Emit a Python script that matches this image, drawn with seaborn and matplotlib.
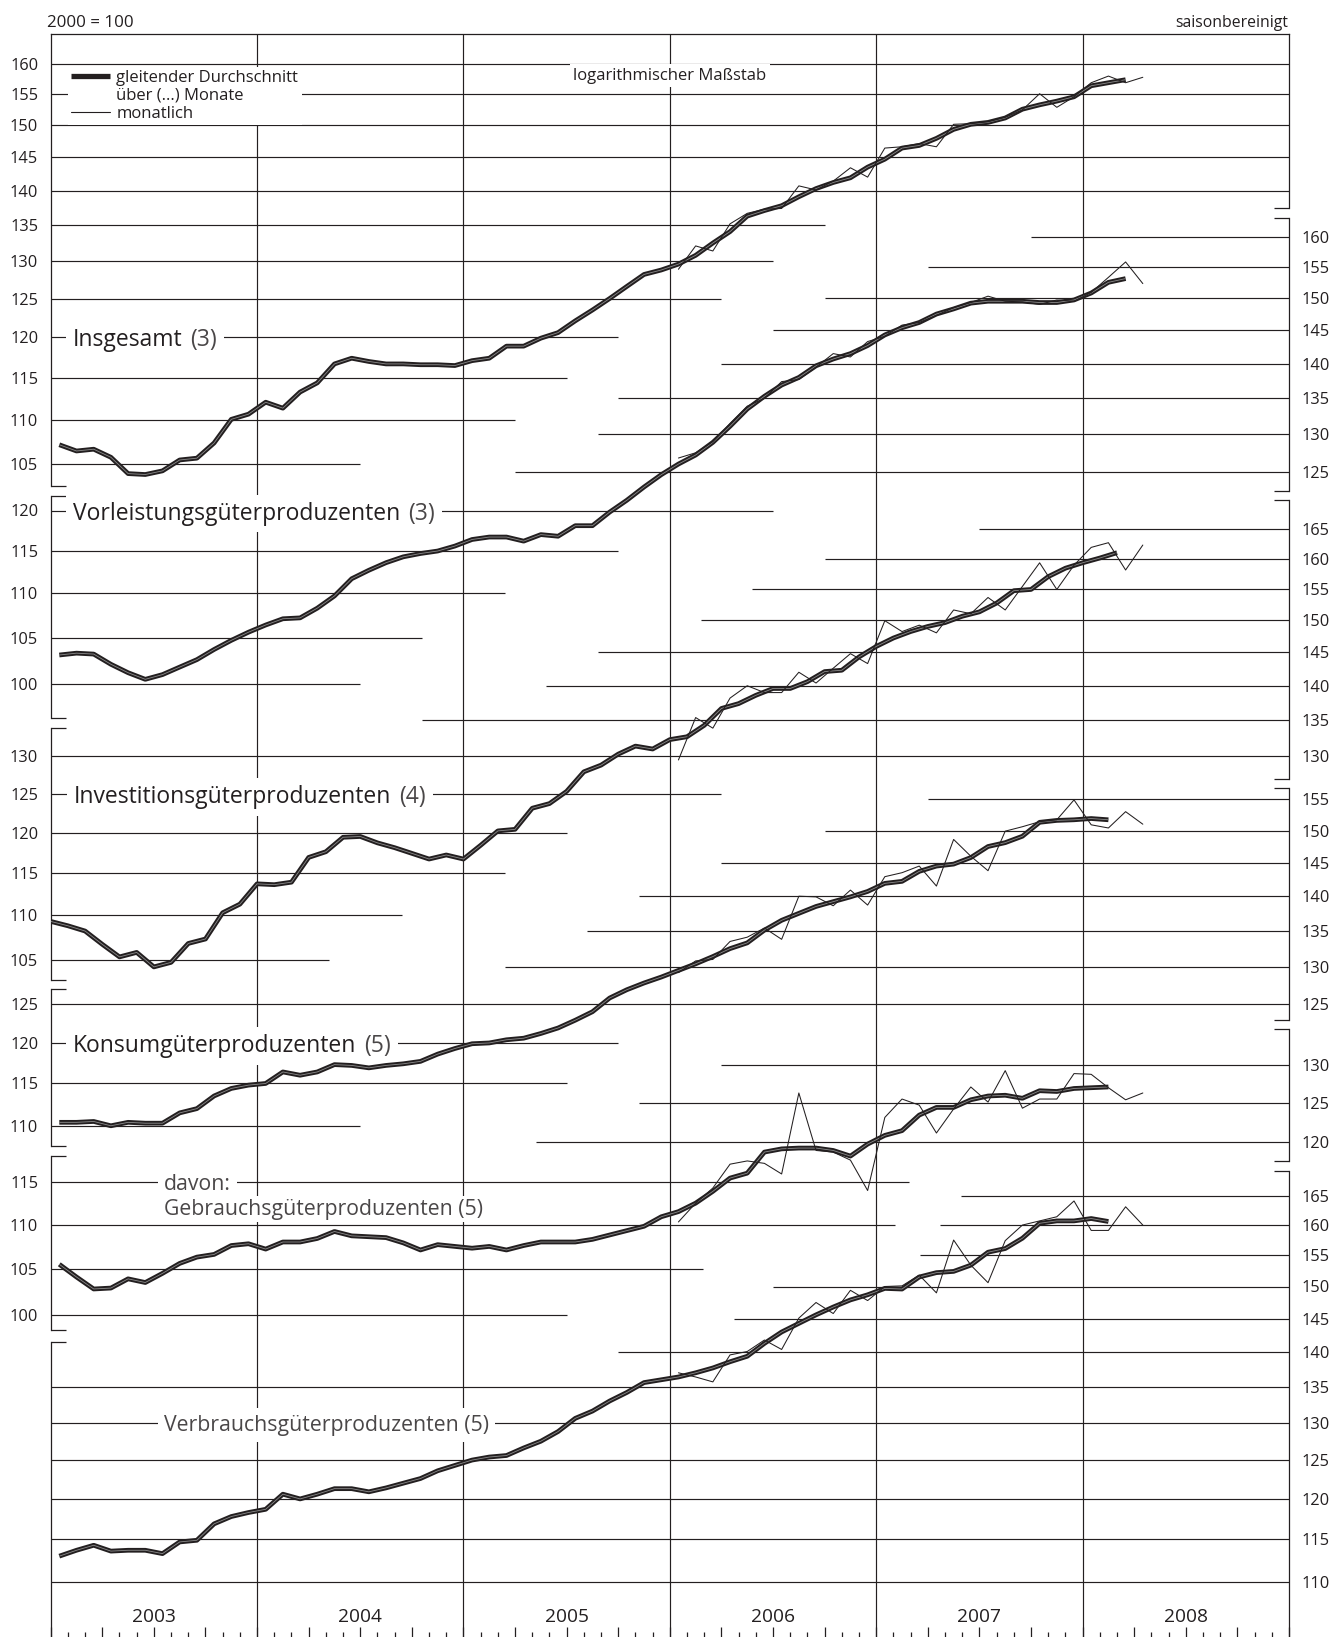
import numpy as np
import pandas as pd
import matplotlib
matplotlib.use("Agg")
import matplotlib.pyplot as plt
import matplotlib.transforms as mtrans
from matplotlib.lines import Line2D
from matplotlib.ticker import FixedLocator, FixedFormatter, NullFormatter
import seaborn as sns

# ---- Werte, 2000 = 100, saisonbereinigt ----
# gleitende Durchschnitte ab Jan 2003, monatliche Werte ab Jan 2006
ins_ma = [107.2, 106.5, 106.7, 105.8, 104.0, 103.9, 104.3, 105.5, 105.7, 107.4, 110.1, 110.7,
          112.1, 111.4, 113.3, 114.4, 116.7, 117.4, 117.0, 116.7, 116.7, 116.6, 116.6, 116.5,
          117.1, 117.4, 118.9, 118.9, 119.9, 120.6, 122.1, 123.5, 125.0, 126.6, 128.2, 128.8,
          129.6, 130.8, 132.5, 134.1, 136.3, 137.1, 137.8, 139.1, 140.3, 141.2, 141.9, 143.5,
          144.7, 146.4, 146.8, 147.9, 149.3, 150.1, 150.4, 151.1, 152.5, 153.2, 153.8, 154.5,
          156.3, 156.8, 157.3]
ins_m = [128.9, 132.1, 131.4, 135.2, 136.7, 137.3, 137.4, 140.7, 140.1, 141.4, 143.4, 142.0,
         146.4, 146.6, 147.1, 146.6, 150.1, 150.2, 150.5, 151.2, 152.4, 155.0, 152.8, 154.5,
         156.8, 157.9, 156.8, 157.7]

vor_ma = [103.1, 103.3, 103.2, 102.1, 101.2, 100.5, 101.0, 101.8, 102.6, 103.7, 104.7, 105.6,
          106.4, 107.1, 107.2, 108.3, 109.7, 111.7, 112.7, 113.6, 114.3, 114.7, 115.0, 115.6,
          116.4, 116.7, 116.7, 116.2, 117.0, 116.8, 118.1, 118.1, 119.8, 121.3, 123.0, 124.6,
          126.0, 127.2, 128.9, 131.1, 133.5, 135.3, 136.9, 138.0, 139.7, 140.7, 141.5, 142.7,
          144.3, 145.4, 146.2, 147.5, 148.3, 149.2, 149.5, 149.5, 149.5, 149.3, 149.3, 149.7,
          150.8, 152.5, 153.1]
vor_m = [126.8, 127.5, 129.0, 131.5, 133.9, 135.0, 137.4, 137.7, 139.5, 141.5, 141.0, 143.3,
         144.1, 145.8, 146.2, 147.3, 148.5, 149.3, 150.3, 149.5, 149.4, 149.0, 149.7, 149.5,
         150.9, 153.3, 155.8, 152.3]

inv_ma = [109.3, 108.8, 108.2, 106.7, 105.3, 105.8, 104.2, 104.7, 106.8, 107.3, 110.3, 111.3,
          113.7, 113.6, 113.9, 116.9, 117.6, 119.4, 119.5, 118.7, 118.1, 117.4, 116.7, 117.2,
          116.7, 118.4, 120.2, 120.4, 123.1, 123.7, 125.3, 127.9, 128.8, 130.3, 131.4, 131.0,
          132.3, 132.7, 134.3, 136.7, 137.4, 138.6, 139.6, 139.6, 140.6, 142.1, 142.3, 144.3,
          145.9, 147.2, 148.2, 149.0, 149.6, 150.6, 151.3, 152.7, 154.7, 154.9, 157.0, 158.4,
          159.3, 160.1, 161.0]
inv_m = [129.5, 135.4, 133.9, 138.2, 140.0, 139.0, 139.0, 142.0, 140.4, 142.6, 144.8, 143.3,
         149.9, 148.2, 149.2, 148.0, 151.6, 151.0, 153.6, 151.6, 155.4, 159.3, 154.9, 158.9,
         161.9, 162.7, 158.1, 162.3]

kon_ma = [110.4, 110.4, 110.5, 110.0, 110.4, 110.3, 110.3, 111.5, 112.0, 113.5, 114.4, 114.8,
          115.0, 116.4, 116.0, 116.4, 117.3, 117.2, 116.9, 117.2, 117.4, 117.7, 118.6, 119.3,
          119.9, 120.0, 120.4, 120.6, 121.2, 121.9, 122.9, 124.0, 125.8, 126.9, 127.8, 128.6,
          129.5, 130.4, 131.4, 132.5, 133.3, 135.1, 136.5, 137.5, 138.5, 139.2, 139.9, 140.7,
          141.9, 142.2, 143.7, 144.5, 144.8, 145.8, 147.5, 148.1, 149.1, 151.3, 151.6, 151.7,
          151.9, 151.7]
kon_m = [129.2, 130.8, 131.0, 133.5, 134.1, 135.4, 133.8, 140.0, 139.9, 138.6, 140.9, 138.7,
         142.9, 143.5, 144.5, 141.5, 148.6, 146.0, 143.8, 149.9, 150.6, 151.4, 151.7, 154.9,
         150.9, 150.4, 153.0, 151.0]

geb_ma = [105.5, 104.1, 102.8, 102.9, 103.9, 103.5, 104.5, 105.6, 106.3, 106.6, 107.6, 107.8,
          107.2, 108.0, 108.0, 108.4, 109.2, 108.7, 108.6, 108.5, 107.9, 107.1, 107.7, 107.5,
          107.3, 107.5, 107.1, 107.6, 108.0, 108.0, 108.0, 108.3, 108.8, 109.3, 109.8, 110.9,
          111.5, 112.5, 113.9, 115.5, 116.1, 118.7, 119.1, 119.2, 119.2, 118.9, 118.2, 119.7,
          120.8, 121.4, 123.4, 124.4, 124.4, 125.4, 125.9, 126.0, 125.6, 126.6, 126.5, 126.9,
          127.0, 127.1]
geb_m = [110.3, 112.5, 114.3, 117.2, 117.6, 117.3, 116.0, 126.3, 118.9, 118.7, 117.7, 114.0,
         123.1, 125.5, 124.7, 121.1, 124.2, 127.1, 125.1, 129.3, 124.3, 125.5, 125.5, 128.9,
         128.8, 127.0, 125.4, 126.3]

ver_ma = [113.0, 113.7, 114.3, 113.6, 113.7, 113.7, 113.3, 114.7, 114.9, 116.9, 117.8, 118.3,
          118.7, 120.6, 120.0, 120.6, 121.3, 121.3, 120.9, 121.4, 122.0, 122.6, 123.6, 124.3,
          125.0, 125.4, 125.6, 126.6, 127.5, 128.8, 130.6, 131.6, 133.0, 134.2, 135.6, 136.0,
          136.4, 137.0, 137.7, 138.6, 139.4, 141.3, 143.0, 144.3, 145.6, 146.8, 147.9, 148.7,
          149.7, 149.6, 151.5, 152.2, 152.4, 153.4, 155.5, 156.1, 157.8, 160.3, 160.7, 160.7,
          161.1, 160.6]
ver_m = [137.0, 136.4, 135.7, 139.6, 140.1, 141.8, 140.4, 145.1, 147.5, 145.8, 149.4, 147.8,
         150.0, 150.1, 151.8, 149.0, 157.5, 153.4, 150.6, 157.4, 160.0, 160.7, 161.4, 164.1,
         159.1, 159.1, 163.1, 160.0]

years = [2003, 2004, 2005, 2006, 2007, 2008]


# ---- Achsen-Layout ----
sns.set_theme(style="white")
plt.rcParams["font.family"] = ["Open Sans", "DejaVu Sans"]

INK = "#231f20"
SOFT = "#4a4748"
W, H = 1336, 1637
L_PX, R_PX, T_PX, B_PX = 50.7, 1289.0, 34.3, 1637.0
K = 952.0  # Pixel je ln-Einheit (gemeinsamer log. Massstab)


def val_at(anchor, px):
    v0, p0 = anchor
    return v0 * np.exp((p0 - px) / K)


def month_x(start, n, centred=True):
    d = pd.date_range(start, periods=n, freq="MS")
    off = 0.5 if centred else 1.0
    return np.asarray(d.year + (d.month - off) / 12.0, dtype=float)


def style_side(a, side, ticks, span, anchor):
    top_v, bot_v = val_at(anchor, span[0]), val_at(anchor, span[1])
    for s in ("left", "right", "top", "bottom"):
        a.spines[s].set_visible(s == side)
    a.spines[side].set_bounds(bot_v, top_v)
    a.spines[side].set_color(INK)
    a.spines[side].set_linewidth(0.9)
    caps = [v for v, p in ((top_v, span[0]), (bot_v, span[1])) if T_PX < p < B_PX]
    a.yaxis.set_major_locator(FixedLocator(ticks))
    a.yaxis.set_major_formatter(FixedFormatter([str(t) for t in ticks]))
    a.yaxis.set_minor_locator(FixedLocator(caps))
    a.yaxis.set_minor_formatter(NullFormatter())
    a.yaxis.set_ticks_position(side)
    on = dict(left=side == "left", right=side == "right",
              labelleft=side == "left", labelright=side == "right")
    a.tick_params(axis="y", which="major", length=0, pad=9, labelsize=11.8,
                  labelcolor=INK, **on)
    a.tick_params(axis="y", which="minor", length=11, width=0.9, color=INK,
                  direction="in", **on)


fig = plt.figure(figsize=(W / 100, H / 100), dpi=100)
fig.patch.set_facecolor("white")
rect = [L_PX / W, 1 - B_PX / H, (R_PX - L_PX) / W, (B_PX - T_PX) / H]


def white(pad):
    return dict(boxstyle=f"square,pad={pad}", fc="white", ec="none")


panels = [
    # name, number, anchor, left ticks, right ticks, left spine px, right spine px, grid,
    # ma, ma_x, monthly, label position
    ("Insgesamt", "(3)", (160, 63.5), list(range(105, 161, 5)), [],
     (T_PX, 485.7), (T_PX, 208.4),
     [(v, 2003, 2009) for v in (160, 155, 150, 145, 140)]
     + [(135, 2003, 2006.75), (130, 2003, 2006.5), (125, 2003, 2006.25), (120, 2003, 2005.75),
        (115, 2003, 2005.5), (110, 2003, 2005.25), (105, 2003, 2004.5)],
     ins_ma, month_x("2003-01", 63), ins_m, (2003.108, 120)),
    ("Vorleistungsgüterproduzenten", "(3)", (120, 510.5), list(range(100, 121, 5)),
     list(range(125, 161, 5)), (496, 718.3), (217.9, 490.8),
     [(120, 2003, 2006.5), (115, 2003, 2005.75), (110, 2003, 2005.2), (105, 2003, 2004.8),
      (100, 2003, 2004.5), (160, 2007.75, 2009), (155, 2007.25, 2009), (150, 2006.75, 2009),
      (145, 2006.5, 2009), (140, 2006.25, 2009), (135, 2005.75, 2009), (130, 2005.65, 2009),
      (125, 2005.25, 2009)],
     vor_ma, month_x("2003-01", 63), vor_m, (2003.108, 120)),
    ("Investitionsgüterproduzenten", "(4)", (130, 756.3), list(range(105, 131, 5)),
     list(range(130, 166, 5)), (727.7, 980), (500.4, 779),
     [(130, 2003, 2009), (125, 2003, 2006.25), (120, 2003, 2005.5), (115, 2003, 2005.2),
      (110, 2003, 2004.7), (105, 2003, 2004.35), (165, 2007.5, 2009), (160, 2006.75, 2009),
      (155, 2006.4, 2009), (150, 2006.15, 2009), (145, 2005.65, 2009), (140, 2005.4, 2009),
      (135, 2004.8, 2009)],
     inv_ma, month_x("2003-01", 63, centred=False), inv_m, (2003.113, 125)),
    ("Konsumgüterproduzenten", "(5)", (155, 799.3), list(range(110, 126, 5)),
     list(range(125, 156, 5)), (989.3, 1146), (788, 1019.9),
     [(125, 2003, 2009), (120, 2003, 2005.75), (115, 2003, 2005.5), (110, 2003, 2004.5),
      (155, 2007.25, 2009), (150, 2006.75, 2009), (145, 2006.25, 2009), (140, 2005.85, 2009),
      (135, 2005.6, 2009), (130, 2005.2, 2009)],
     kon_ma, month_x("2003-01", 62), kon_m, (2003.108, 120)),
    ("davon:", "", (120, 1141.7), list(range(100, 116, 5)), list(range(120, 131, 5)),
     (1156, 1330), (1029.5, 1161),
     [(115, 2003, 2007.16), (110, 2003, 2007.09), (105, 2003, 2006.16), (100, 2003, 2005.5),
      (130, 2006.25, 2009), (125, 2005.85, 2009), (120, 2005.35, 2009)],
     geb_ma, month_x("2003-01", 62), geb_m, (2003.549, 115)),
    ("Verbrauchsgüterproduzenten (5)", "", (150, 1286.5), [], list(range(110, 166, 5)),
     (1342, B_PX), (1170.7, B_PX),
     [(165, 2007.41, 2009), (160, 2007.31, 2009), (155, 2007.21, 2009), (150, 2006.5, 2009),
      (145, 2006.31, 2009), (140, 2005.75, 2009)]
     + [(v, 2003, 2009) for v in (135, 130, 125, 120, 115, 110)],
     ver_ma, month_x("2003-01", 62), ver_m, (2003.549, 130)),
]

mon_x = month_x("2006-01", 28)
axes = []
for i, (name, num, anchor, lt, rt, lspan, rspan, grid, ma, ma_x, mon, lab) in enumerate(panels):
    ax = fig.add_axes(rect, label=f"panel{i}")
    if i > 0:
        ax.patch.set_visible(False)
    gv, g0, g1 = zip(*grid)
    ax.hlines(gv, g0, g1, colors=INK, lw=0.85, zorder=1)
    sns.lineplot(x=ma_x, y=ma, ax=ax, color=INK, lw=3.4, solid_capstyle="butt",
                 estimator=None, sort=False, zorder=4)
    sns.lineplot(x=ma_x, y=ma, ax=ax, color="#8c8c8c", lw=0.6, solid_capstyle="butt",
                 estimator=None, sort=False, zorder=5)
    sns.lineplot(x=mon_x, y=mon, ax=ax, color=INK, lw=0.75, estimator=None, sort=False,
                 zorder=6)
    ax.set_yscale("log")
    ax.set_xlim(2003, 2009)
    ylim = (val_at(anchor, B_PX), val_at(anchor, T_PX))
    ax.set_ylim(*ylim)
    ax.set_xlabel("")
    ax.set_ylabel("")
    style_side(ax, "left", lt, lspan, anchor)
    if i > 0:
        ax.tick_params(axis="x", which="both", bottom=False, labelbottom=False)

    axr = ax.twinx()
    axr.set_yscale("log")
    axr.set_ylim(*ylim)
    style_side(axr, "right", rt, rspan, anchor)

    # Beschriftung: weisser Hintergrund unterbricht Gitter, nicht die Kurven
    sub = i >= 4
    t = ax.text(lab[0], lab[1], name, fontsize=15.3 if sub else 16.5,
                color=SOFT if sub else INK, ha="left", va="center_baseline",
                bbox=white(0.3), zorder=3.5)
    if num:
        ax.annotate(num, xy=(1, 0), xycoords=t, xytext=(5.5, 0), textcoords="offset points",
                    fontsize=16.5, color=SOFT, ha="left", va="bottom",
                    bbox=white(0.3), zorder=3.2)
    if name == "davon:":
        ax.annotate("Gebrauchsgüterproduzenten (5)", xy=lab, xytext=(0, -17.5),
                    textcoords="offset points", fontsize=15.3, color=SOFT,
                    ha="left", va="center_baseline", bbox=white(0.1), zorder=3.7)
    axes.append(ax)

ax0 = axes[0]
ax0.spines["top"].set_visible(True)
ax0.spines["top"].set_color(INK)
ax0.spines["top"].set_linewidth(0.9)
for yr in years[1:]:
    ax0.axvline(yr, color=INK, lw=0.85, zorder=1)

# Monats- und Quartalsstriche unten
ax0.xaxis.set_major_locator(FixedLocator(np.arange(2003, 2009.001, 0.25)))
ax0.xaxis.set_minor_locator(FixedLocator(2003 + np.arange(73) / 12.0))
ax0.xaxis.set_major_formatter(NullFormatter())
ax0.tick_params(axis="x", which="major", direction="in", length=7.5, width=0.9, color=INK,
                bottom=True, labelbottom=False)
ax0.tick_params(axis="x", which="minor", direction="in", length=3.8, width=0.9, color=INK,
                bottom=True)
blend = mtrans.blended_transform_factory(ax0.transData, ax0.transAxes)
for yr in years:
    ax0.text(yr + 0.5, (B_PX - 1617) / (B_PX - T_PX), str(yr), transform=blend,
             ha="center", va="center", fontsize=13.8, color=INK)

ax0.text(2006.0, 1 - (75.5 - T_PX) / (B_PX - T_PX), "logarithmischer Maßstab",
         transform=blend, ha="center", va="center", fontsize=12, color=INK,
         bbox=white(0.2), zorder=8)

handles = [Line2D([], [], color=INK, lw=3.8, solid_capstyle="butt"),
           Line2D([], [], color="none"),
           Line2D([], [], color=INK, lw=0.8)]
leg = ax0.legend(handles, ["gleitender Durchschnitt", "über (...) Monate", "monatlich"],
                 loc="upper left",
                 bbox_to_anchor=((68 - L_PX) / (R_PX - L_PX), 1 - (67 - T_PX) / (B_PX - T_PX)),
                 frameon=True, fancybox=False, framealpha=1, edgecolor="none",
                 facecolor="white", fontsize=12, handlelength=2.3, handletextpad=0.4,
                 labelspacing=0.1, borderpad=0.2, borderaxespad=0)
for tx in leg.get_texts():
    tx.set_color(INK)
leg.set_zorder(9)

fig.text(46.7 / W, 1 - 22.7 / H, "2000 = 100", ha="left", va="center", fontsize=12.2,
         color=INK)
fig.text(1288 / W, 1 - 22.7 / H, "saisonbereinigt", ha="right", va="center", fontsize=11.3,
         color=INK)

fig.savefig("out.png", dpi=100, facecolor="white")
plt.close(fig)
